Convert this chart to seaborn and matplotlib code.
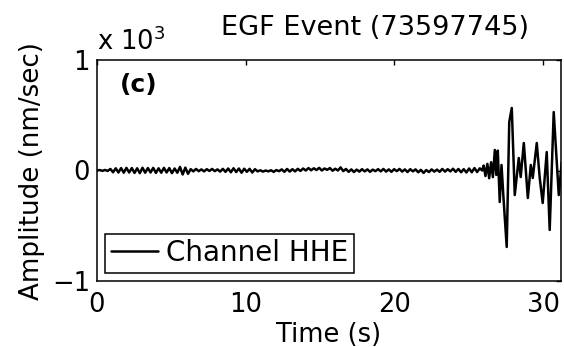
import numpy as np
import pandas as pd
import matplotlib
matplotlib.use("Agg")
import matplotlib.pyplot as plt
from matplotlib.ticker import FixedLocator, FuncFormatter
import seaborn as sns

# Pre-event noise, turning points every 0.18 s from t = 0 (nm/sec)
noise_dt = 0.18
noise_amp = [
    0, 4, -3, 5, -4, 14, -16, 20, -18, 22,
    -20, 24, -18, 22, -22, 20, -24, 25, -20, 22,
    -18, 24, -22, 20, -20, 24, -18, 22, -24, 18,
    -20, 32, -36, 26, -30, 12, -8, 14, -6, 10,
    -8, 12, -4, 14, -6, 10, -10, 15, -12, 18,
    -16, 20, -14, 18, -20, 16, -12, 15, -18, 12,
    -8, 2, -10, 0, -8, 2, -12, 4, -6, 10,
    -12, 14, -10, 12, -8, 15, -4, 18, 0, 22,
    2, 20, 4, 24, 0, 18, 6, 22, -2, 16,
    0, 28, -6, 14, -12, 10, -14, 8, -10, 12,
    -8, 10, -12, 8, -6, 12, -8, 14, -10, 10,
    -12, 12, -6, 14, -10, 10, -14, 12, -8, 10,
    -16, 6, -22, 4, -14, 10, -10, 8, -12, 14,
    -10, 12, -8, 16, -12, 14, -16, 12, -18, 18,
    -16, 22, -14, 20,
]

# Arrival and coda: turning points of the trace (s, nm/sec)
coda_time = [25.90, 26.00, 26.12, 26.25, 26.37, 26.50, 26.62, 26.75, 26.85,
             26.95, 27.08, 27.20, 27.32, 27.55, 27.72, 27.89, 28.09, 28.36,
             28.49, 28.70, 28.97, 29.17, 29.30, 29.57, 29.77, 29.97, 30.24,
             30.44, 30.71, 31.05, 31.25]
coda_amp = [0, 45, -50, 60, -70, 75, -60, 186, -40,
            180, -285, 50, -222, -692, 439, 566, -222, 113,
            -59, 249, -249, 50, -68, 249, -68, -294, 167,
            -538, 529, -222, 77]

x_ticks = [0, 10, 20, 30]
y_ticks = [-1000, 0, 1000]

noise_time = [i * noise_dt for i in range(len(noise_amp))]
trace = pd.DataFrame({
    "Time (s)": noise_time + coda_time,
    "Amplitude": noise_amp + coda_amp,
})

sns.set_theme(style="white")
plt.rcParams["font.family"] = ["DejaVu Sans"]
plt.rcParams["axes.unicode_minus"] = True
plt.rcParams["text.color"] = "black"
plt.rcParams["axes.labelcolor"] = "black"
plt.rcParams["legend.labelcolor"] = "black"

W, H = 564, 347
fig = plt.figure(figsize=(W / 100, H / 100), dpi=100)
ax = fig.add_axes([97 / W, 1 - 281 / H, 464 / W, 221 / H])

sns.lineplot(data=trace, x="Time (s)", y="Amplitude", ax=ax, color="black",
             linewidth=1.8, label="Channel HHE", estimator=None, sort=False)

ax.set_xlim(0, 31.2)
ax.set_ylim(-1000, 1000)
ax.xaxis.set_major_locator(FixedLocator(x_ticks))
ax.yaxis.set_major_locator(FixedLocator(y_ticks))
ax.yaxis.set_major_formatter(FuncFormatter(lambda v, p: f"{v / 1000:.0f}".replace("-", "\u2212")))

fs = 18.5
ax.tick_params(axis="both", which="major", direction="in", length=3.5, width=1.0,
               colors="black", labelsize=fs, top=True, right=True, pad=5)
ax.tick_params(axis="x", pad=8)
for s in ax.spines.values():
    s.set_color("black")
    s.set_linewidth(1.1)

ax.set_xlabel("Time (s)", fontsize=fs, color="black", labelpad=2.5)
ax.set_ylabel("Amplitude (nm/sec)", fontsize=18.8, color="black", labelpad=5)

fig.text(375 / W, 1 - 35 / H, "EGF Event (73597745)", fontsize=19.5,
         ha="center", va="baseline", color="black")
fig.text(97 / W, 1 - 50 / H, "x 10$^3$", fontsize=fs, ha="left",
         va="baseline", color="black")
ax.text(0.05, 0.855, "(c)", transform=ax.transAxes, fontsize=18,
        fontweight="bold", ha="left", va="baseline", color="black")

leg = ax.legend(loc="lower left", fontsize=20, frameon=True, fancybox=False,
                edgecolor="black", framealpha=1, borderpad=0.2,
                handlelength=1.7, handletextpad=0.3, borderaxespad=0.3)
leg.get_frame().set_linewidth(1.1)
for t in leg.get_texts():
    t.set_color("black")

fig.savefig("out.png", dpi=100, facecolor="white")
